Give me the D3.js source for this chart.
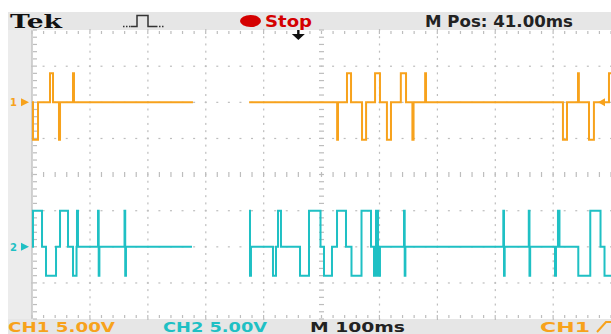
<!DOCTYPE html>
<html>
<head>
<meta charset="utf-8">
<script src="https://cdn.jsdelivr.net/npm/d3@7"></script>
<style>
  html, body { margin: 0; padding: 0; background: #fff; }
  svg { display: block; }
</style>
</head>
<body>
<div id="scope"></div>
<script>
// ---- captured traces: time (ms from left edge of screen), level (V); null = no trace drawn
const ch1Time = [0, 1.7, 10.4, 31.1, 36.3, 46.6, 48.4, 70.8, 72.5, 278, 279,
  375, 527, 528.5, 544, 551, 570, 577, 592.5, 601, 613, 620, 637, 646, 657, 659,
  679, 680.5, 917, 924, 943, 944.5, 962, 970.5, 996.5, 1000];
const ch1Volt = [0, -5.2, 0, 4, 0, -5.2, 0, 4, 0, 0, null,
  0, -5.2, 0, 4, 0, -5.2, 0, 4, 0, -5.2, 0, 4, 0, -5.2, 0,
  4, 0, -5.2, 0, 4, 0, -5.2, 0, 4, 4];

const ch2Time = [0, 1.7, 17.3, 24.2, 41.5, 48.4, 62.2, 70.8, 76.9, 77.7, 79.4,
  114, 115.2, 116.4, 159.8, 161, 162.3, 276.3, 277,
  374.8, 376.5, 378.2, 416.2, 421.4, 424.9, 430, 462.9, 478.4, 498.3, 504.3,
  518.1, 526.8, 542.3, 551.8, 569.1, 585.5, 590.7, 594.1, 597.6, 601,
  642.5, 643.7, 644.9, 814, 815.2, 816.4, 858, 859.2, 860.4,
  903.3, 905, 908.4, 911, 943.5, 964.2, 981.9, 988.8, 1000];
const ch2Volt = [0, 5, 0, -4, 0, 5, 0, -4, 0, 5, 0,
  5, -4, 0, 5, -4, 0, 0, null,
  5, -4, 0, -4, 0, 5, 0, -4, 5, 0, -4,
  0, 5, 0, -4, 5, 0, -4, 5, -4, 0,
  5, -4, 0, 5, -4, 0, 5, -4, 0,
  -4, 0, 5, 0, -4, 5, 0, -4, -4];

const channelNames = ["1", "2"];
const channelColors = ["#f7a21c", "#1fc0c4"];
const channelOffsetDiv = [2, -2];   // ground marker position, in divisions
const voltsPerDiv = 5;
const trigLevelVolt = 0;           // CH1 trigger level
const trigTimeMs = 460;            // trigger position arrow on top

const W = 611, H = 334;
const plot = {left: 32, right: 611, top: 30, bottom: 319};

const svg = d3.select("#scope").append("svg")
  .attr("width", W)
  .attr("height", H)
  .style("font-family", "'DejaVu Sans', sans-serif");

const x = d3.scaleLinear().domain([0, 1000]).range([plot.left, plot.right]);
const y = d3.scaleLinear().domain([-4, 4]).range([plot.bottom, plot.top]);

// ---- screen chrome
svg.append("rect").attr("x", 8).attr("y", 12).attr("width", W - 8).attr("height", plot.top - 12).style("fill", "#e6e6e6");
svg.append("rect").attr("x", 8).attr("y", plot.top).attr("width", plot.left - 8).attr("height", plot.bottom - plot.top).style("fill", "#ececec");
svg.append("rect").attr("x", 8).attr("y", plot.bottom).attr("width", W - 8).attr("height", H - plot.bottom).style("fill", "#e6e6e6");

// ---- graticule
const grid = svg.append("g").attr("class", "graticule").style("fill", "#bdbdbd");
const minorT = d3.range(0, 1000.01, 20);
const minorV = d3.range(-4, 4.001, 0.2);

// dotted vertical lines
d3.range(100, 1000, 100).filter(t => t !== 500).forEach(t => {
  grid.selectAll(null).data(minorV).enter().append("rect")
    .attr("x", x(t) - 0.5).attr("y", d => y(d) - 1)
    .attr("width", 1.2).attr("height", 2);
});
// dotted horizontal lines
d3.range(-3, 4, 1).filter(v => v !== 0).forEach(v => {
  grid.selectAll(null).data(minorT).enter().append("rect")
    .attr("x", d => x(d) - 1).attr("y", y(v) - 0.5)
    .attr("width", 2).attr("height", 1.2);
});
// centre cross with minor ticks
grid.selectAll(null).data(minorV).enter().append("rect")
  .attr("x", x(500) - 2.5).attr("y", d => y(d) - 0.6)
  .attr("width", 5).attr("height", 1.2);
grid.selectAll(null).data(minorT).enter().append("rect")
  .attr("x", d => x(d) - 0.6).attr("y", y(0) - 2.5)
  .attr("width", 1.2).attr("height", 5);
// border ticks
grid.selectAll(null).data(minorT).enter().append("rect")
  .attr("x", d => x(d) - 0.6).attr("y", plot.top + 1).attr("width", 1.2).attr("height", 3);
grid.selectAll(null).data(minorT).enter().append("rect")
  .attr("x", d => x(d) - 0.6).attr("y", plot.bottom - 4).attr("width", 1.2).attr("height", 3);
grid.selectAll(null).data(minorV).enter().append("rect")
  .attr("x", plot.left + 1).attr("y", d => y(d) - 0.6).attr("width", 4).attr("height", 1.2);
svg.append("line")
  .attr("x1", plot.left).attr("x2", plot.left).attr("y1", plot.top).attr("y2", plot.bottom)
  .style("stroke", "#c4c4c4").style("stroke-width", 1.5);

// ---- traces
const traces = [
  {time: ch1Time, volt: ch1Volt},
  {time: ch2Time, volt: ch2Volt}
];

traces.forEach((tr, i) => {
  const pts = tr.time.map((t, k) => ({t: t, v: tr.volt[k]}));
  const line = d3.line()
    .defined(d => d.v !== null)
    .x(d => x(d.t))
    .y(d => y(channelOffsetDiv[i] + d.v / voltsPerDiv))
    .curve(d3.curveStepAfter);

  svg.append("path")
    .datum(pts)
    .attr("d", line)
    .style("fill", "none")
    .style("stroke", channelColors[i])
    .style("stroke-width", 2);

  // ground marker on the left
  const gy = y(channelOffsetDiv[i]);
  svg.append("text")
    .attr("x", 10).attr("y", gy + 4)
    .style("font-size", "10px").style("font-weight", "bold")
    .style("fill", channelColors[i])
    .text(channelNames[i]);
  svg.append("path")
    .attr("d", `M21,${gy - 4}L29,${gy}L21,${gy + 4}Z`)
    .style("fill", channelColors[i]);
});

// trigger level marker (CH1)
const ty = y(channelOffsetDiv[0] + trigLevelVolt / voltsPerDiv);
svg.append("path")
  .attr("d", `M598,${ty}L605,${ty - 4}L605,${ty + 4}Z`)
  .style("fill", channelColors[0]);

// trigger position arrow
const tx = x(trigTimeMs);
svg.append("path")
  .attr("d", `M${tx - 1.2},30h2.4v4h5.3l-6.5,6l-6.5,-6h5.3z`)
  .style("fill", "#111");

// ---- header
svg.append("text")
  .attr("x", 10).attr("y", 28)
  .attr("textLength", 52).attr("lengthAdjust", "spacingAndGlyphs")
  .style("font-family", "'DejaVu Serif', serif")
  .style("font-size", "18px").style("font-weight", "bold")
  .style("fill", "#111")
  .text("Tek");

// acquisition icon
svg.append("path")
  .attr("d", "M131,26.5H137V15.5H148V26.5H156")
  .style("fill", "none").style("stroke", "#333").style("stroke-width", 1.5);
svg.append("path")
  .attr("d", "M123,26.5H131M156,26.5H165")
  .style("fill", "none").style("stroke", "#333").style("stroke-width", 1.5)
  .style("stroke-dasharray", "1.5,1.5");

svg.append("ellipse")
  .attr("cx", 250.5).attr("cy", 21).attr("rx", 10.5).attr("ry", 6)
  .style("fill", "#d40000");
svg.append("text")
  .attr("x", 265).attr("y", 26.5)
  .attr("textLength", 47).attr("lengthAdjust", "spacingAndGlyphs")
  .style("font-size", "15px").style("font-weight", "bold")
  .style("fill", "#d40000")
  .text("Stop");
svg.append("text")
  .attr("x", 425).attr("y", 26.5)
  .attr("textLength", 148).attr("lengthAdjust", "spacingAndGlyphs")
  .style("font-size", "15px").style("font-weight", "bold")
  .style("fill", "#222")
  .text("M Pos: 41.00ms");

// ---- footer
const footer = [
  {x: 8, w: 107, text: "CH1  5.00V", color: channelColors[0]},
  {x: 163, w: 104, text: "CH2  5.00V", color: channelColors[1]},
  {x: 310, w: 95, text: "M 100ms", color: "#222"},
  {x: 540, w: 50, text: "CH1", color: channelColors[0]}
];
svg.selectAll(".foot").data(footer).enter().append("text")
  .attr("class", "foot")
  .attr("x", d => d.x).attr("y", 331.5)
  .attr("textLength", d => d.w).attr("lengthAdjust", "spacingAndGlyphs")
  .style("font-size", "13.5px").style("font-weight", "bold")
  .style("fill", d => d.color)
  .text(d => d.text);
// rising edge symbol
svg.append("path")
  .attr("d", "M597,332L606,322H611")
  .style("fill", "none").style("stroke", channelColors[0]).style("stroke-width", 2);
</script>
</body>
</html>
